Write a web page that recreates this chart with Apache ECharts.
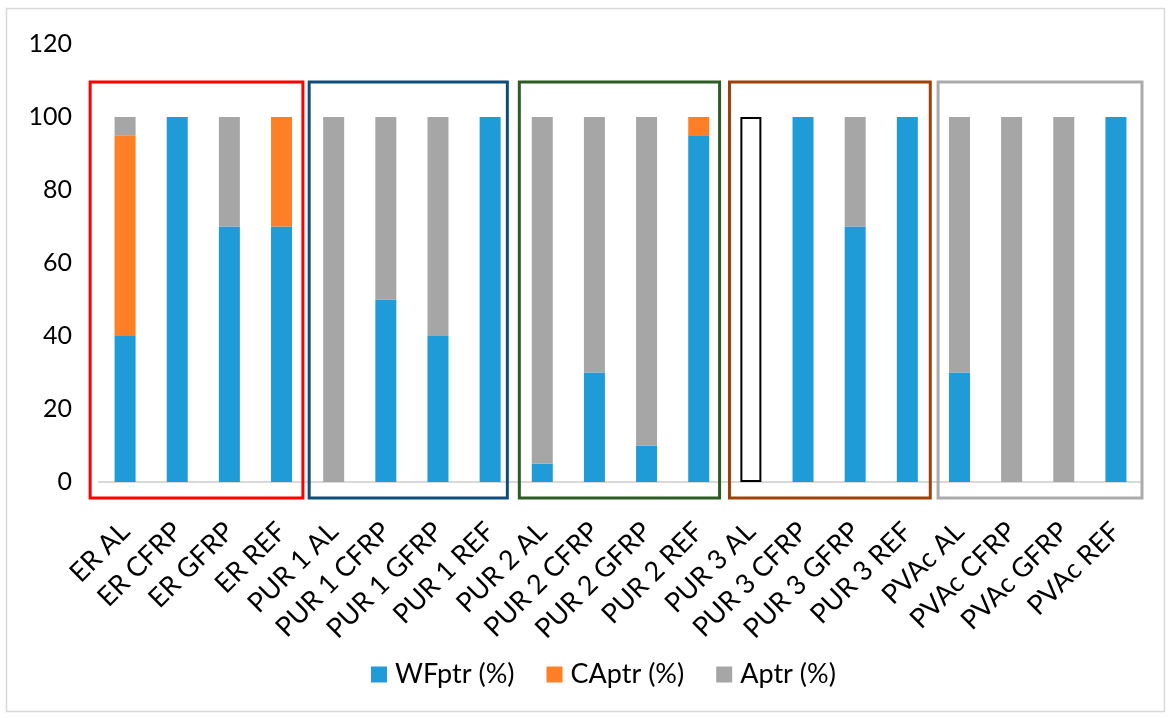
<!DOCTYPE html>
<html>
<head>
<meta charset="utf-8">
<script src="https://cdn.jsdelivr.net/npm/echarts@6/dist/echarts.min.js"></script>
<style>
  html, body { margin: 0; padding: 0; background: #fff; }
  #chart { width: 1172px; height: 718px; }
</style>
</head>
<body>
<div id="chart"></div>
<script>
// Samples along the x axis
const categories = [
  'ER AL', 'ER CFRP', 'ER GFRP', 'ER REF',
  'PUR 1 AL', 'PUR 1 CFRP', 'PUR 1 GFRP', 'PUR 1 REF',
  'PUR 2 AL', 'PUR 2 CFRP', 'PUR 2 GFRP', 'PUR 2 REF',
  'PUR 3 AL', 'PUR 3 CFRP', 'PUR 3 GFRP', 'PUR 3 REF',
  'PVAc AL', 'PVAc CFRP', 'PVAc GFRP', 'PVAc REF'
];

// Failure mode shares (%)
const wfptr = [40, 100, 70, 70, 0, 50, 40, 100, 5, 30, 10, 95, 0, 100, 70, 100, 30, 0, 0, 100];
const captr = [55, 0, 0, 30, 0, 0, 0, 0, 0, 0, 0, 5, 0, 0, 0, 0, 0, 0, 0, 0];
const aptr  = [5, 0, 30, 0, 100, 50, 60, 0, 95, 70, 90, 0, 0, 0, 30, 0, 70, 100, 100, 0];
// Unfilled (outlined only) column
const blank = [null, null, null, null, null, null, null, null, null, null, null, null, 100, null, null, null, null, null, null, null];

const yTicks = { min: 0, max: 120, interval: 20 };

// Adhesive groups framed by coloured rectangles: first/last category index
const groups = [
  { from: 0,  to: 3,  color: '#FF0000', padL: 0.67, padR: 0.41 },
  { from: 4,  to: 7,  color: '#0E4C7A', padL: 0.47, padR: 0.33 },
  { from: 8,  to: 11, color: '#2C5B24', padL: 0.44, padR: 0.40 },
  { from: 12, to: 15, color: '#A0400A', padL: 0.41, padR: 0.44 },
  { from: 16, to: 19, color: '#ABABAB', padL: 0.41, padR: 0.50 }
];
const frameTop = 109.6, frameBottom = -4.4;

const FONT = 'Lato, "Open Sans", sans-serif';
const FS = 27;
const chart = echarts.init(document.getElementById('chart'));

const barStyle = (name, data, color) => ({
  name, type: 'bar', stack: 'total', data, barWidth: 21,
  itemStyle: { color }, emphasis: { disabled: true }
});

chart.setOption({
  animation: false,
  textStyle: { fontFamily: FONT },
  grid: { left: 99, right: 30, top: 44, bottom: 236 },
  legend: {
    data: ['WFptr (%)', 'CAptr (%)', 'Aptr (%)'],
    bottom: 25, left: 366,
    itemWidth: 16, itemHeight: 16, itemGap: 32,
    icon: 'rect',
    textStyle: { fontSize: FS, color: '#000', fontFamily: FONT, padding: [0, 0, 0, 3] }
  },
  xAxis: {
    type: 'category', data: categories,
    axisLine: { show: true, lineStyle: { color: '#D9D9D9', width: 2 } },
    axisTick: { show: false },
    axisLabel: { rotate: 45, fontSize: FS, color: '#000', margin: 45, interval: 0, fontFamily: FONT }
  },
  yAxis: {
    type: 'value', min: yTicks.min, max: yTicks.max, interval: yTicks.interval,
    axisLine: { show: false }, axisTick: { show: false },
    splitLine: { show: false },
    axisLabel: { fontSize: 25, color: '#000', margin: 27, fontFamily: FONT }
  },
  series: [
    barStyle('WFptr (%)', wfptr, '#1F9BD8'),
    barStyle('CAptr (%)', captr, '#FF7F27'),
    barStyle('Aptr (%)', aptr, '#A6A6A6'),
    {
      name: 'blank', type: 'bar', stack: 'total', data: blank, barWidth: 19,
      itemStyle: { color: '#FFFFFF', borderColor: '#000', borderWidth: 2 },
      emphasis: { disabled: true }
    }
  ]
});

// Frames around each adhesive group, placed through the axis scales
function drawFrames() {
  const step = chart.convertToPixel({ xAxisIndex: 0 }, 1) - chart.convertToPixel({ xAxisIndex: 0 }, 0);
  const yT = chart.convertToPixel({ yAxisIndex: 0 }, frameTop);
  const yB = chart.convertToPixel({ yAxisIndex: 0 }, frameBottom);
  const elements = groups.map(g => {
    const x0 = chart.convertToPixel({ xAxisIndex: 0 }, g.from);
    const x1 = chart.convertToPixel({ xAxisIndex: 0 }, g.to);
    const left = x0 - g.padL * step, right = x1 + g.padR * step;
    return {
      type: 'rect', z: 10, silent: true,
      shape: { x: left, y: yT, width: right - left, height: yB - yT },
      style: { fill: 'none', stroke: g.color, lineWidth: 3 }
    };
  });
  elements.push({
    type: 'rect', z: 0, silent: true,
    shape: { x: 6.5, y: 8.5, width: 1158, height: 703 },
    style: { fill: 'none', stroke: '#D9D9D9', lineWidth: 1.5 }
  });
  chart.setOption({ graphic: { elements } });
}
drawFrames();
</script>
</body>
</html>
